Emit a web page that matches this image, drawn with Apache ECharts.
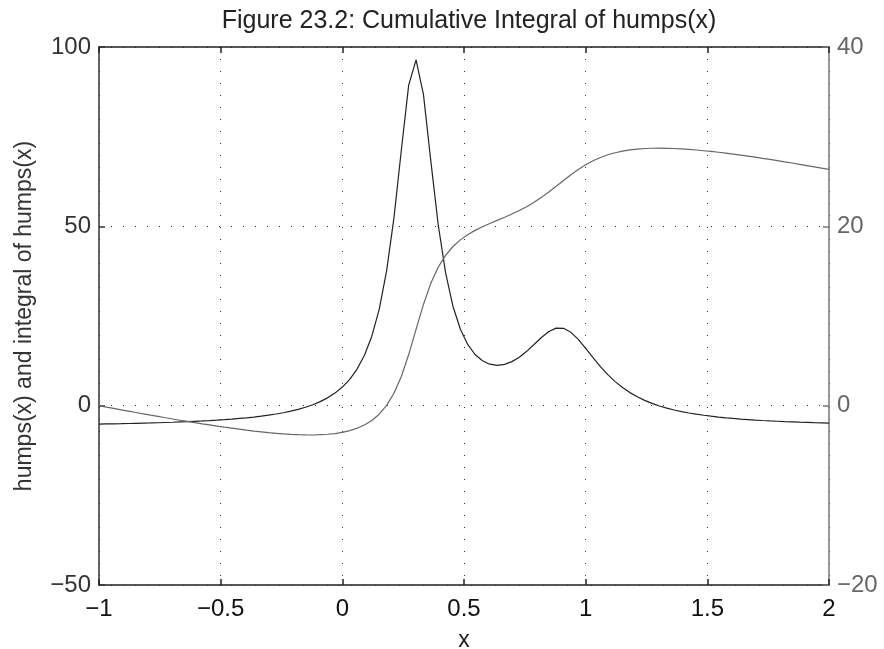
<!DOCTYPE html>
<html><head><meta charset="utf-8">
<script src="https://cdn.jsdelivr.net/npm/echarts@6/dist/echarts.min.js"></script>
<style>html,body{margin:0;padding:0;background:#fff}#c{width:884px;height:649px}</style>
</head><body><div id="c"></div>
<script>
// x sample points (100 evenly spaced points from -1 to 2)
const xVals = [-1.0000,-0.9697,-0.9394,-0.9091,-0.8788,-0.8485,-0.8182,-0.7879,-0.7576,-0.7273,
-0.6970,-0.6667,-0.6364,-0.6061,-0.5758,-0.5455,-0.5152,-0.4848,-0.4545,-0.4242,
-0.3939,-0.3636,-0.3333,-0.3030,-0.2727,-0.2424,-0.2121,-0.1818,-0.1515,-0.1212,
-0.0909,-0.0606,-0.0303,0.0000,0.0303,0.0606,0.0909,0.1212,0.1515,0.1818,
0.2121,0.2424,0.2727,0.3030,0.3333,0.3636,0.3939,0.4242,0.4545,0.4848,
0.5152,0.5455,0.5758,0.6061,0.6364,0.6667,0.6970,0.7273,0.7576,0.7879,
0.8182,0.8485,0.8788,0.9091,0.9394,0.9697,1.0000,1.0303,1.0606,1.0909,
1.1212,1.1515,1.1818,1.2121,1.2424,1.2727,1.3030,1.3333,1.3636,1.3939,
1.4242,1.4545,1.4848,1.5152,1.5455,1.5758,1.6061,1.6364,1.6667,1.6970,
1.7273,1.7576,1.7879,1.8182,1.8485,1.8788,1.9091,1.9394,1.9697,2.0000];

// humps(x) values (left axis)
const humpsVals = [-5.14,-5.10,-5.06,-5.02,-4.97,-4.92,-4.87,-4.82,-4.76,-4.69,
-4.62,-4.54,-4.46,-4.36,-4.26,-4.15,-4.03,-3.89,-3.74,-3.57,
-3.38,-3.17,-2.93,-2.65,-2.33,-1.97,-1.54,-1.04,-0.45,0.26,
1.12,2.18,3.50,5.18,7.35,10.20,14.06,19.37,26.87,37.52,
52.36,71.21,89.37,96.43,86.79,68.25,50.52,37.08,27.72,21.36,
17.07,14.27,12.51,11.56,11.25,11.51,12.28,13.51,15.15,17.05,
19.01,20.66,21.62,21.57,20.45,18.47,16.00,13.39,10.90,8.65,
6.71,5.05,3.64,2.47,1.47,0.64,-0.08,-0.68,-1.20,-1.65,
-2.04,-2.38,-2.68,-2.94,-3.17,-3.38,-3.56,-3.73,-3.87,-4.01,
-4.13,-4.24,-4.34,-4.44,-4.52,-4.60,-4.67,-4.74,-4.80,-4.86];

// cumulative integral of humps(x) (right axis)
const integralVals = [0.00,-0.16,-0.31,-0.46,-0.61,-0.76,-0.91,-1.06,-1.20,-1.35,
-1.49,-1.63,-1.76,-1.90,-2.03,-2.15,-2.28,-2.40,-2.51,-2.62,
-2.73,-2.83,-2.92,-3.01,-3.08,-3.15,-3.20,-3.24,-3.26,-3.27,
-3.24,-3.19,-3.11,-2.98,-2.79,-2.52,-2.15,-1.65,-0.95,0.03,
1.39,3.26,5.70,8.51,11.29,13.64,15.44,16.76,17.75,18.49,
19.07,19.55,19.95,20.32,20.66,21.01,21.37,21.76,22.19,22.68,
23.23,23.83,24.47,25.12,25.76,26.35,26.87,27.32,27.68,27.98,
28.21,28.39,28.52,28.62,28.68,28.71,28.72,28.70,28.68,28.63,
28.58,28.51,28.43,28.35,28.26,28.16,28.05,27.94,27.83,27.71,
27.58,27.46,27.33,27.19,27.06,26.92,26.78,26.64,26.49,26.35];

const titleText = 'Figure 23.2: Cumulative Integral of humps(x)';
const xName = 'x';
const yName = 'humps(x) and integral of humps(x)';

const fmt = v => (v < 0 ? '\u2212' + String(-v) : String(v));
const FONT = 'Liberation Sans, Arial, Helvetica, sans-serif';

const chart = echarts.init(document.getElementById('c'), null, {renderer: 'canvas'});
chart.setOption({
  animation: false,
  backgroundColor: '#fff',
  title: {
    text: titleText, left: 464, top: 4, textAlign: 'center',
    textStyle: {fontFamily: FONT, fontWeight: 'normal', fontSize: 25, color: '#222'}
  },
  grid: {left: 99, right: 55, top: 47, bottom: 64, containLabel: false, outerBoundsMode: 'none'},
  xAxis: [{
    type: 'value', min: -1, max: 2, interval: 0.5, position: 'bottom',
    name: xName, nameLocation: 'middle', nameGap: 44,
    nameTextStyle: {fontFamily: FONT, fontSize: 23, color: '#222'},
    axisLine: {show: true, onZero: false, lineStyle: {color: '#222', width: 1.5}},
    axisTick: {show: true, inside: true, length: 6, lineStyle: {color: '#222', width: 1.5}},
    axisLabel: {fontFamily: FONT, fontSize: 24, color: '#111', margin: 12, formatter: fmt},
    splitLine: {show: true, lineStyle: {color: '#333', width: 1, type: [1, 11]}}
  }, {
    type: 'value', min: -1, max: 2, interval: 0.5, position: 'top',
    axisLine: {show: true, onZero: false, lineStyle: {color: '#222', width: 1.5}},
    axisTick: {show: true, inside: true, length: 6, lineStyle: {color: '#222', width: 1.5}},
    axisLabel: {show: false},
    splitLine: {show: false}
  }],
  yAxis: [{
    type: 'value', min: -50, max: 100, interval: 50, position: 'left',
    name: yName, nameLocation: 'middle', nameGap: 63,
    nameTextStyle: {fontFamily: FONT, fontSize: 23, color: '#333'},
    axisLine: {show: true, onZero: false, lineStyle: {color: '#333', width: 1.5}},
    axisTick: {show: true, inside: true, length: 6, lineStyle: {color: '#333', width: 1.5}},
    axisLabel: {fontFamily: FONT, fontSize: 24, color: '#333', margin: 8, formatter: fmt},
    splitLine: {show: true, lineStyle: {color: '#333', width: 1, type: [1, 11]}}
  }, {
    type: 'value', min: -20, max: 40, interval: 20, position: 'right',
    axisLine: {show: true, onZero: false, lineStyle: {color: '#777', width: 1.5}},
    axisTick: {show: true, inside: true, length: 6, lineStyle: {color: '#777', width: 1.5}},
    axisLabel: {fontFamily: FONT, fontSize: 24, color: '#666', margin: 8, formatter: fmt},
    splitLine: {show: false}
  }],
  series: [{
    type: 'line', xAxisIndex: 0, yAxisIndex: 0, showSymbol: false, symbol: 'none',
    lineStyle: {color: '#222', width: 1.2},
    data: xVals.map((x, i) => [x, humpsVals[i]])
  }, {
    type: 'line', xAxisIndex: 0, yAxisIndex: 1, showSymbol: false, symbol: 'none',
    lineStyle: {color: '#666', width: 1.2},
    data: xVals.map((x, i) => [x, integralVals[i]])
  }]
});
</script>
</body></html>
